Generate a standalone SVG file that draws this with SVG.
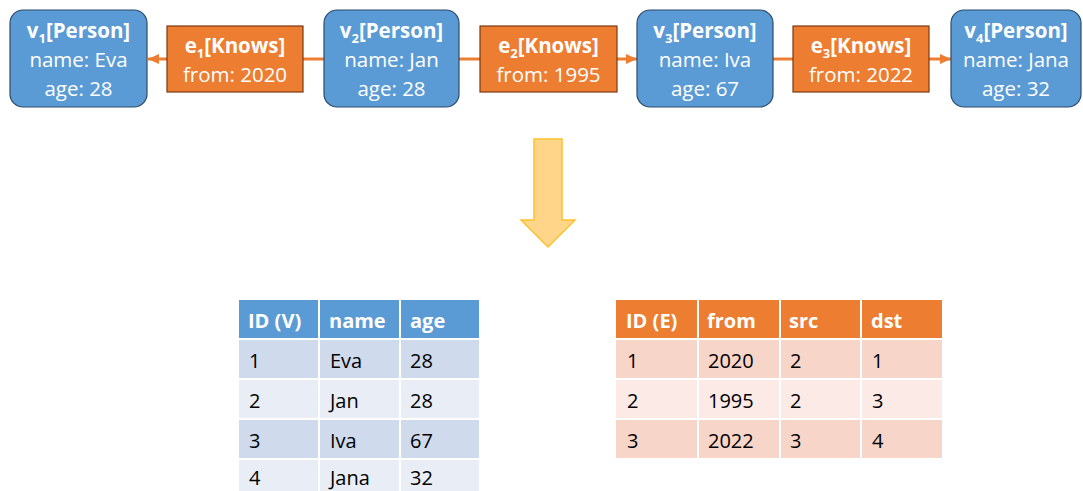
<svg xmlns="http://www.w3.org/2000/svg" width="1083" height="491" viewBox="0 0 1083 491">
  <defs>
    <style>
      text { font-family: "Open Sans", "Liberation Sans", sans-serif; font-size: 20px; }
      .vnode { fill: #5B9BD5; stroke: #2B4B6B; stroke-width: 1.2; }
      .enode { fill: #ED7D31; stroke: #7A3A10; stroke-width: 1.2; }
      .lbl { fill: #FFFFFF; text-anchor: middle; font-size: 20.5px; }
      .b { font-weight: bold; }
      .sub { font-size: 13px; }
      .conn { stroke: #ED7D31; stroke-width: 3; fill: none; }
      .th { fill: #FFFFFF; font-weight: bold; }
      .td { fill: #000000; }
      .vh { fill: #5B9BD5; }
      .v1 { fill: #CFDAEC; }
      .v2 { fill: #E9EEF6; }
      .eh { fill: #ED7D31; }
      .e1 { fill: #F8D5C9; }
      .e2 { fill: #FBEAE5; }
    </style>
    <marker id="arr" markerUnits="userSpaceOnUse" markerWidth="12" markerHeight="11" refX="11" refY="5" orient="auto">
      <path d="M0,0 L11,5 L0,10 Z" fill="#ED7D31"/>
    </marker>
  </defs>

  <!-- connectors between vertices and edge boxes -->
  <g id="connectors">
    <line class="conn" x1="167" y1="59" x2="148" y2="59" marker-end="url(#arr)"/>
    <line class="conn" x1="303" y1="59" x2="324" y2="59"/>
    <line class="conn" x1="459" y1="59" x2="480" y2="59"/>
    <line class="conn" x1="617" y1="59" x2="637" y2="59" marker-end="url(#arr)"/>
    <line class="conn" x1="773" y1="59" x2="793" y2="59"/>
    <line class="conn" x1="929" y1="59" x2="951" y2="59" marker-end="url(#arr)"/>
  </g>

  <!-- vertices -->
  <g id="v1">
    <rect class="vnode" x="10" y="10" width="137" height="97" rx="13"/>
    <text class="lbl b" x="78.5" y="38">v<tspan class="sub" dy="5">1</tspan><tspan dy="-5">[Person]</tspan></text>
    <text class="lbl" x="78.5" y="67">name: Eva</text>
    <text class="lbl" x="78.5" y="96">age: 28</text>
  </g>
  <g id="v2">
    <rect class="vnode" x="324" y="10" width="135" height="97" rx="13"/>
    <text class="lbl b" x="391.5" y="38">v<tspan class="sub" dy="5">2</tspan><tspan dy="-5">[Person]</tspan></text>
    <text class="lbl" x="391.5" y="67">name: Jan</text>
    <text class="lbl" x="391.5" y="96">age: 28</text>
  </g>
  <g id="v3">
    <rect class="vnode" x="637" y="10" width="136" height="97" rx="13"/>
    <text class="lbl b" x="705" y="38">v<tspan class="sub" dy="5">3</tspan><tspan dy="-5">[Person]</tspan></text>
    <text class="lbl" x="705" y="67">name: Iva</text>
    <text class="lbl" x="705" y="96">age: 67</text>
  </g>
  <g id="v4">
    <rect class="vnode" x="951" y="10" width="130" height="97" rx="13"/>
    <text class="lbl b" x="1016" y="38">v<tspan class="sub" dy="5">4</tspan><tspan dy="-5">[Person]</tspan></text>
    <text class="lbl" x="1016" y="67">name: Jana</text>
    <text class="lbl" x="1016" y="96">age: 32</text>
  </g>

  <!-- edges -->
  <g id="e1">
    <rect class="enode" x="167" y="26" width="136" height="66"/>
    <text class="lbl b" x="235" y="53">e<tspan class="sub" dy="5">1</tspan><tspan dy="-5">[Knows]</tspan></text>
    <text class="lbl" x="235" y="82">from: 2020</text>
  </g>
  <g id="e2">
    <rect class="enode" x="480" y="26" width="137" height="66"/>
    <text class="lbl b" x="548.5" y="53">e<tspan class="sub" dy="5">2</tspan><tspan dy="-5">[Knows]</tspan></text>
    <text class="lbl" x="548.5" y="82">from: 1995</text>
  </g>
  <g id="e3">
    <rect class="enode" x="793" y="26" width="136" height="66"/>
    <text class="lbl b" x="861" y="53">e<tspan class="sub" dy="5">3</tspan><tspan dy="-5">[Knows]</tspan></text>
    <text class="lbl" x="861" y="82">from: 2022</text>
  </g>

  <!-- transformation arrow -->
  <g id="down-arrow">
    <path d="M534,139 L562,139 L562,220 L575,220 L548,247 L521,220 L534,220 Z" fill="#FFD58A" stroke="#FFC12E" stroke-width="1.5" stroke-linejoin="miter"/>
  </g>

  <!-- vertex table -->
  <g id="vertex-table">
    <rect class="vh" x="239" y="300" width="79" height="38"/>
    <rect class="vh" x="320" y="300" width="79" height="38"/>
    <rect class="vh" x="401" y="300" width="78" height="38"/>
    <rect class="v1" x="239" y="340" width="79" height="38"/>
    <rect class="v1" x="320" y="340" width="79" height="38"/>
    <rect class="v1" x="401" y="340" width="78" height="38"/>
    <rect class="v2" x="239" y="380" width="79" height="38"/>
    <rect class="v2" x="320" y="380" width="79" height="38"/>
    <rect class="v2" x="401" y="380" width="78" height="38"/>
    <rect class="v1" x="239" y="420" width="79" height="38"/>
    <rect class="v1" x="320" y="420" width="79" height="38"/>
    <rect class="v1" x="401" y="420" width="78" height="38"/>
    <rect class="v2" x="239" y="460" width="79" height="38"/>
    <rect class="v2" x="320" y="460" width="79" height="38"/>
    <rect class="v2" x="401" y="460" width="78" height="38"/>
    <text class="th" x="248" y="328">ID (V)</text>
    <text class="th" x="329" y="328">name</text>
    <text class="th" x="410" y="328">age</text>
    <text class="td" x="249" y="368">1</text>
    <text class="td" x="330" y="368">Eva</text>
    <text class="td" x="410" y="368">28</text>
    <text class="td" x="249" y="408">2</text>
    <text class="td" x="330" y="408">Jan</text>
    <text class="td" x="410" y="408">28</text>
    <text class="td" x="249" y="448">3</text>
    <text class="td" x="330" y="448">Iva</text>
    <text class="td" x="410" y="448">67</text>
    <text class="td" x="249" y="485">4</text>
    <text class="td" x="330" y="485">Jana</text>
    <text class="td" x="410" y="485">32</text>
  </g>

  <!-- edge table -->
  <g id="edge-table">
    <rect class="eh" x="616" y="300" width="81" height="38"/>
    <rect class="eh" x="699" y="300" width="80" height="38"/>
    <rect class="eh" x="781" y="300" width="79" height="38"/>
    <rect class="eh" x="862" y="300" width="80" height="38"/>
    <rect class="e1" x="616" y="340" width="81" height="38"/>
    <rect class="e1" x="699" y="340" width="80" height="38"/>
    <rect class="e1" x="781" y="340" width="79" height="38"/>
    <rect class="e1" x="862" y="340" width="80" height="38"/>
    <rect class="e2" x="616" y="380" width="81" height="38"/>
    <rect class="e2" x="699" y="380" width="80" height="38"/>
    <rect class="e2" x="781" y="380" width="79" height="38"/>
    <rect class="e2" x="862" y="380" width="80" height="38"/>
    <rect class="e1" x="616" y="420" width="81" height="38"/>
    <rect class="e1" x="699" y="420" width="80" height="38"/>
    <rect class="e1" x="781" y="420" width="79" height="38"/>
    <rect class="e1" x="862" y="420" width="80" height="38"/>
    <text class="th" x="626" y="328">ID (E)</text>
    <text class="th" x="707" y="328">from</text>
    <text class="th" x="789" y="328">src</text>
    <text class="th" x="871" y="328">dst</text>
    <text class="td" x="627" y="368">1</text>
    <text class="td" x="708" y="368">2020</text>
    <text class="td" x="790" y="368">2</text>
    <text class="td" x="872" y="368">1</text>
    <text class="td" x="627" y="408">2</text>
    <text class="td" x="708" y="408">1995</text>
    <text class="td" x="790" y="408">2</text>
    <text class="td" x="872" y="408">3</text>
    <text class="td" x="627" y="448">3</text>
    <text class="td" x="708" y="448">2022</text>
    <text class="td" x="790" y="448">3</text>
    <text class="td" x="872" y="448">4</text>
  </g>
</svg>
